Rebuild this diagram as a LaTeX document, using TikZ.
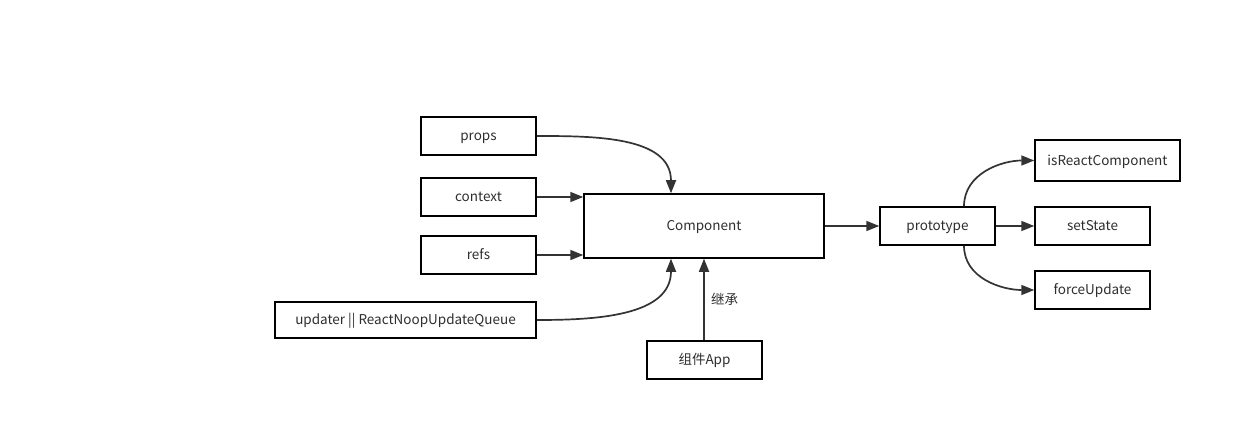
\documentclass[tikz,border=0pt]{standalone}
\usepackage{fontspec}
\setmainfont{Noto Sans CJK SC}
\usetikzlibrary{arrows.meta}
\definecolor{ln}{HTML}{333333}
\begin{document}
\begin{tikzpicture}[x=1pt,y=-1pt,
  box/.style={draw=black,line width=1.5pt,fill=white,inner sep=0pt,text height=9pt,text depth=0pt,font=\fontsize{13.5}{15}\selectfont,text=ln!90!black},
  conn/.style={draw=ln,line width=1.7pt,-{Triangle[length=13pt,width=10pt]}}]
\useasboundingbox[fill=white] (0,0) rectangle (1240,441);
\node[box,minimum width=115pt,minimum height=38pt] (props) at (478.5,136) {props};
\node[box,minimum width=115pt,minimum height=38pt] (context) at (478.5,197) {context};
\node[box,minimum width=115pt,minimum height=38pt] (refs) at (478.5,255) {refs};
\node[box,minimum width=261pt,minimum height=36pt] (updater) at (405.5,320) {updater || ReactNoopUpdateQueue};
\node[box,minimum width=240pt,minimum height=64pt] (comp) at (704,226) {Component};
\node[box,minimum width=115pt,minimum height=38pt] (app) at (704.5,360) {组件App};
\node[box,minimum width=115pt,minimum height=38pt] (proto) at (937.5,226) {prototype};
\node[box,minimum width=145pt,minimum height=41pt] (isr) at (1107.5,160.5) {isReactComponent};
\node[box,minimum width=115pt,minimum height=38pt] (set) at (1092.5,226) {setState};
\node[box,minimum width=115pt,minimum height=38pt] (force) at (1092.5,290) {forceUpdate};
\draw[conn] (props.east) to[out=0,in=90,looseness=1.0] ([xshift=-33pt]comp.north);
\draw[conn] (context.east) -- (context.east -| comp.west);
\draw[conn] (refs.east) -- (refs.east -| comp.west);
\draw[conn] (updater.east) to[out=0,in=-90,looseness=1.0] ([xshift=-33pt]comp.south);
\draw[conn] (app.north -| comp.south) -- (comp.south) node[pos=0.5,right=3pt,text=ln,font=\fontsize{13.5}{15}\selectfont] (inh) {继承};
\draw[conn] (comp.east) -- (proto.west);
\draw[conn] ([xshift=26.5pt]proto.north) to[out=90,in=180] (isr.west);
\draw[conn] (proto.east) -- (set.west);
\draw[conn] ([xshift=26.5pt]proto.south) to[out=-90,in=180] (force.west);
\end{tikzpicture}
\end{document}
